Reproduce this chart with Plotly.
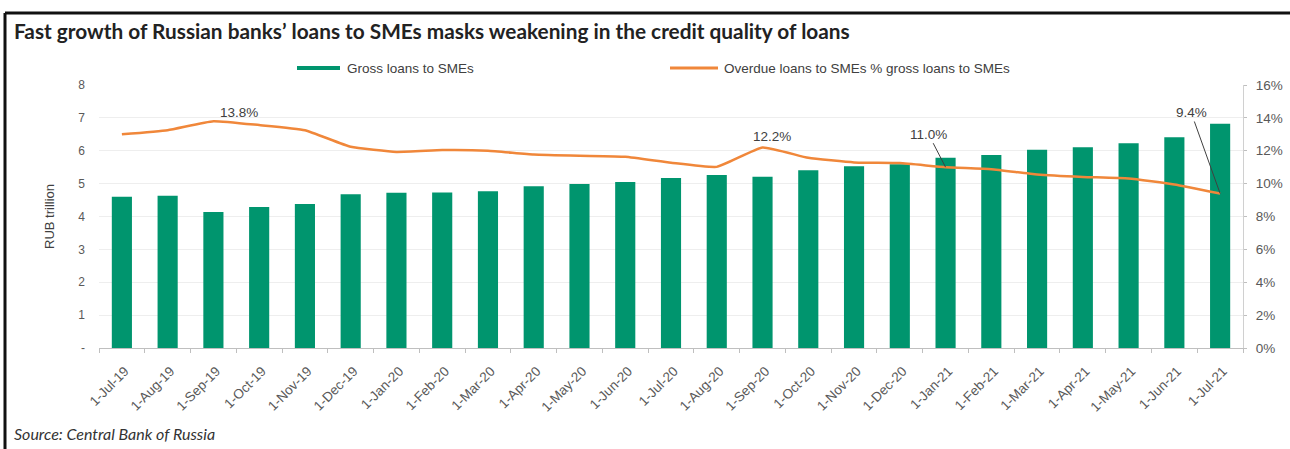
import plotly.graph_objects as go

# Monthly observations (first day of month)
months = [
    "1-Jul-19", "1-Aug-19", "1-Sep-19", "1-Oct-19", "1-Nov-19", "1-Dec-19",
    "1-Jan-20", "1-Feb-20", "1-Mar-20", "1-Apr-20", "1-May-20", "1-Jun-20",
    "1-Jul-20", "1-Aug-20", "1-Sep-20", "1-Oct-20", "1-Nov-20", "1-Dec-20",
    "1-Jan-21", "1-Feb-21", "1-Mar-21", "1-Apr-21", "1-May-21", "1-Jun-21",
    "1-Jul-21",
]

# Gross loans to SMEs, RUB trillion
gross_loans = [
    4.60, 4.63, 4.14, 4.29, 4.38, 4.68,
    4.72, 4.73, 4.77, 4.92, 4.99, 5.05,
    5.17, 5.26, 5.21, 5.41, 5.53, 5.59,
    5.79, 5.87, 6.03, 6.11, 6.23, 6.41,
    6.82,
]

# Overdue loans to SMEs as % of gross loans to SMEs
overdue_share = [
    13.0, 13.25, 13.8, 13.56, 13.25, 12.24,
    11.93, 12.04, 12.0, 11.77, 11.69, 11.63,
    11.27, 11.02, 12.2, 11.57, 11.29, 11.25,
    11.0, 10.88, 10.56, 10.41, 10.31, 9.95,
    9.4,
]

left_ticks = [0, 1, 2, 3, 4, 5, 6, 7, 8]
left_tick_text = ["-", "1", "2", "3", "4", "5", "6", "7", "8"]
right_ticks = [0, 2, 4, 6, 8, 10, 12, 14, 16]
right_tick_text = ["0%", "2%", "4%", "6%", "8%", "10%", "12%", "14%", "16%"]

GREEN = "#00956E"
ORANGE = "#F0873A"
SANS = "Liberation Sans, Arial, sans-serif"

W, H = 1290, 449
L, R, T, B = 99, 47, 85, 101
PW, PH = W - L - R, H - T - B


def px(x):
    return (x - L) / PW


def py(y):
    return (H - B - y) / PH


fig = go.Figure()

fig.add_trace(go.Bar(
    x=months, y=gross_loans, name="Gross loans to SMEs",
    marker=dict(color=GREEN, line=dict(width=0)), width=0.44,
    yaxis="y", showlegend=False,
))

fig.add_trace(go.Scatter(
    x=months, y=overdue_share, name="Overdue loans to SMEs % gross loans to SMEs",
    mode="lines", line=dict(color=ORANGE, width=2.5, shape="spline", smoothing=0.4),
    yaxis="y2", showlegend=False,
))

# Labels for selected points of the overdue share
label_font = dict(family=SANS, size=13.5, color="#404040")
annotations = [
    dict(x=months[2], y=overdue_share[2], yref="y2", text=f"{overdue_share[2]:.1f}%",
         showarrow=False, xshift=26, yshift=9, font=label_font),
    dict(x=months[14], y=overdue_share[14], yref="y2", text=f"{overdue_share[14]:.1f}%",
         showarrow=False, xshift=9, yshift=11, font=label_font),
    dict(x=months[18], y=overdue_share[18], yref="y2", text=f"{overdue_share[18]:.1f}%",
         showarrow=True, arrowhead=0, arrowwidth=1, arrowcolor="#404040",
         ax=-17, ay=-33, font=label_font),
    dict(x=months[24], y=overdue_share[24], yref="y2", text=f"{overdue_share[24]:.1f}%",
         showarrow=True, arrowhead=0, arrowwidth=1, arrowcolor="#404040",
         ax=-29, ay=-81, font=label_font),
]

# Title, source, axis title
annotations += [
    dict(xref="paper", yref="paper", x=px(12), y=py(30), xanchor="left", yanchor="middle",
         text="<b>Fast growth of Russian banks\u2019 loans to SMEs masks weakening in the credit quality of loans</b>",
         showarrow=False, font=dict(family="Lato, sans-serif", size=20.8, color="#222222")),
    dict(xref="paper", yref="paper", x=px(12), y=py(433), xanchor="left", yanchor="middle",
         text="<i>Source: Central Bank of Russia</i>",
         showarrow=False, font=dict(family="Lato, sans-serif", size=16, color="#333333")),
    dict(xref="paper", yref="paper", x=px(49), y=py(217), xanchor="center", yanchor="middle",
         text="RUB trillion", textangle=-90, showarrow=False,
         font=dict(family=SANS, size=13, color="#404040")),
]

# Legend entries
legend_font = dict(family=SANS, size=13.5, color="#404040")
annotations += [
    dict(xref="paper", yref="paper", x=px(345), y=py(68), xanchor="left", yanchor="middle",
         text="Gross loans to SMEs", showarrow=False, font=legend_font),
    dict(xref="paper", yref="paper", x=px(722), y=py(68), xanchor="left", yanchor="middle",
         text="Overdue loans to SMEs % gross loans to SMEs", showarrow=False, font=legend_font),
]

shapes = [
    dict(type="line", xref="paper", yref="paper", x0=px(297), x1=px(340), y0=py(68), y1=py(68),
         line=dict(color=GREEN, width=4)),
    dict(type="line", xref="paper", yref="paper", x0=px(670), x1=px(718), y0=py(68), y1=py(68),
         line=dict(color=ORANGE, width=3)),
    # frame: top and left rules
    dict(type="line", xref="paper", yref="paper", x0=px(5), x1=px(W + 5), y0=py(13), y1=py(13),
         line=dict(color="#111111", width=3)),
    dict(type="line", xref="paper", yref="paper", x0=px(5), x1=px(5), y0=py(13), y1=py(H + 5),
         line=dict(color="#111111", width=3)),
]

fig.update_layout(
    width=W, height=H,
    margin=dict(l=L, r=R, t=T, b=B, autoexpand=False),
    paper_bgcolor="white", plot_bgcolor="white",
    showlegend=False,
    xaxis=dict(
        type="category", tickangle=-45,
        tickfont=dict(family=SANS, size=13.5, color="#595959"),
        showline=True, linecolor="#BFBFBF", linewidth=1,
        ticks="outside", tickson="boundaries", ticklen=4, tickcolor="#BFBFBF",
        showgrid=False, ticklabelstandoff=9, ticklabelshift=3,
    ),
    yaxis=dict(
        range=[0, 8], tickvals=left_ticks, ticktext=left_tick_text,
        tickfont=dict(family=SANS, size=12, color="#595959"),
        showgrid=True, gridcolor="#EEEEEE", gridwidth=1,
        zeroline=False, showline=False, ticks="", ticklabelstandoff=13,
    ),
    yaxis2=dict(
        range=[0, 16], tickvals=right_ticks, ticktext=right_tick_text,
        overlaying="y", side="right",
        tickfont=dict(family=SANS, size=13.5, color="#595959"),
        showgrid=False, zeroline=False,
        showline=True, linecolor="#D0D0D0", linewidth=1,
        ticks="outside", ticklen=3, tickcolor="#BFBFBF", ticklabelstandoff=6,
    ),
    annotations=annotations,
    shapes=shapes,
)

fig.write_html("out.html")
